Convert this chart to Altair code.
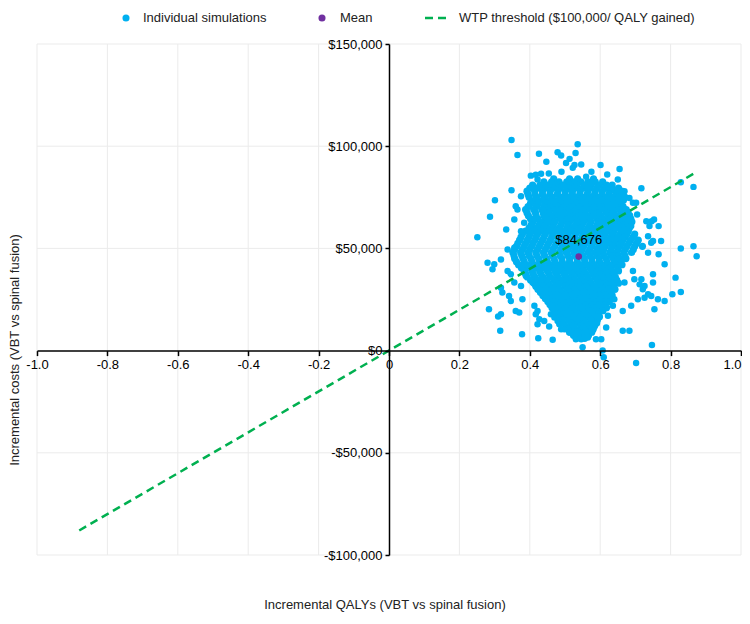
import altair as alt
import pandas as pd

# ---------------- data ----------------
# dense core of the simulation cloud: one cost level (thousand $) per row, QALY values per row
core_cost_k = [84, 82.5, 81, 79.5, 78, 76.5, 75, 73.5, 72, 70.5, 69, 67.5, 66, 64.5, 63, 61.5,
               60, 58.5, 57, 55.5, 54, 52.5, 51, 49.5, 48, 46.5, 45, 43.5, 42, 40.5, 39, 37.5,
               36, 34.5, 33, 31.5, 30, 28.5, 27, 25.5, 24, 22.5, 21, 19.5, 18, 16.5, 15, 13.5,
               12, 10.5, 9, 7.5, 6]
core_qaly = [
    [0.468, 0.513, 0.536, 0.581],
    [0.44, 0.462, 0.483, 0.505, 0.525, 0.545, 0.565, 0.586, 0.607],
    [0.408, 0.429, 0.45, 0.471, 0.493, 0.515, 0.534, 0.556, 0.574, 0.597, 0.618, 0.634],
    [0.40, 0.421, 0.443, 0.465, 0.486, 0.508, 0.528, 0.55, 0.57, 0.59, 0.612, 0.633, 0.652],
    [0.392, 0.414, 0.436, 0.458, 0.48, 0.501, 0.521, 0.543, 0.565, 0.586, 0.606, 0.627, 0.645, 0.661],
    [0.395, 0.415, 0.436, 0.457, 0.478, 0.5, 0.521, 0.542, 0.563, 0.584, 0.605, 0.625, 0.645, 0.665],
    [0.398, 0.42, 0.442, 0.464, 0.487, 0.509, 0.531, 0.552, 0.574, 0.594, 0.615, 0.636, 0.652, 0.671],
    [0.413, 0.436, 0.458, 0.48, 0.501, 0.523, 0.544, 0.565, 0.585, 0.605, 0.626, 0.647, 0.666],
    [0.402, 0.424, 0.446, 0.468, 0.49, 0.511, 0.532, 0.553, 0.574, 0.595, 0.616, 0.637, 0.658],
    [0.395, 0.418, 0.44, 0.457, 0.478, 0.5, 0.52, 0.541, 0.561, 0.582, 0.603, 0.623, 0.644, 0.665],
    [0.388, 0.411, 0.434, 0.452, 0.47, 0.489, 0.51, 0.531, 0.55, 0.572, 0.592, 0.613, 0.633, 0.655, 0.674],
    [0.392, 0.416, 0.438, 0.455, 0.475, 0.495, 0.516, 0.538, 0.556, 0.577, 0.597, 0.619, 0.639, 0.66, 0.679],
    [0.396, 0.418, 0.44, 0.461, 0.481, 0.502, 0.523, 0.544, 0.562, 0.583, 0.603, 0.624, 0.645, 0.664, 0.684],
    [0.402, 0.423, 0.445, 0.466, 0.487, 0.508, 0.529, 0.548, 0.568, 0.59, 0.609, 0.63, 0.65, 0.669, 0.687],
    [0.409, 0.431, 0.452, 0.471, 0.493, 0.513, 0.535, 0.553, 0.574, 0.596, 0.615, 0.636, 0.654, 0.673, 0.69],
    [0.404, 0.426, 0.447, 0.467, 0.488, 0.509, 0.53, 0.549, 0.57, 0.591, 0.611, 0.631, 0.65, 0.669, 0.686],
    [0.398, 0.419, 0.441, 0.463, 0.484, 0.505, 0.524, 0.545, 0.566, 0.586, 0.607, 0.626, 0.646, 0.665, 0.683],
    [0.388, 0.41, 0.431, 0.453, 0.475, 0.497, 0.518, 0.539, 0.56, 0.58, 0.6, 0.62, 0.64, 0.661, 0.68],
    [0.379, 0.401, 0.422, 0.444, 0.466, 0.488, 0.509, 0.53, 0.552, 0.574, 0.594, 0.614, 0.635, 0.657, 0.676, 0.698],
    [0.375, 0.397, 0.418, 0.44, 0.462, 0.484, 0.505, 0.527, 0.548, 0.569, 0.589, 0.61, 0.63, 0.651, 0.67, 0.693],
    [0.371, 0.393, 0.414, 0.436, 0.458, 0.48, 0.501, 0.521, 0.543, 0.563, 0.584, 0.605, 0.625, 0.645, 0.664, 0.686, 0.708],
    [0.366, 0.388, 0.409, 0.431, 0.453, 0.475, 0.497, 0.518, 0.538, 0.558, 0.579, 0.6, 0.62, 0.64, 0.66, 0.681, 0.703],
    [0.362, 0.384, 0.405, 0.427, 0.449, 0.471, 0.493, 0.514, 0.534, 0.553, 0.575, 0.596, 0.614, 0.635, 0.655, 0.676, 0.698, 0.72],
    [0.357, 0.379, 0.4, 0.422, 0.444, 0.466, 0.488, 0.509, 0.529, 0.549, 0.57, 0.591, 0.61, 0.631, 0.651, 0.671, 0.694],
    [0.352, 0.374, 0.395, 0.417, 0.439, 0.461, 0.483, 0.504, 0.525, 0.545, 0.566, 0.586, 0.606, 0.627, 0.646, 0.667, 0.689],
    [0.355, 0.377, 0.398, 0.42, 0.442, 0.464, 0.486, 0.508, 0.529, 0.55, 0.571, 0.591, 0.611, 0.632, 0.651, 0.67],
    [0.357, 0.381, 0.403, 0.425, 0.447, 0.469, 0.491, 0.513, 0.534, 0.555, 0.576, 0.597, 0.617, 0.637, 0.655, 0.673],
    [0.362, 0.384, 0.406, 0.428, 0.45, 0.471, 0.492, 0.513, 0.535, 0.556, 0.577, 0.598, 0.619, 0.64, 0.658],
    [0.368, 0.39, 0.412, 0.434, 0.456, 0.477, 0.499, 0.52, 0.541, 0.562, 0.583, 0.604, 0.625, 0.645, 0.662],
    [0.376, 0.398, 0.42, 0.442, 0.463, 0.485, 0.506, 0.527, 0.548, 0.57, 0.59, 0.61, 0.63, 0.65],
    [0.384, 0.406, 0.428, 0.45, 0.471, 0.492, 0.513, 0.533, 0.554, 0.576, 0.596, 0.615, 0.634, 0.652],
    [0.388, 0.41, 0.432, 0.454, 0.476, 0.498, 0.519, 0.539, 0.56, 0.581, 0.6, 0.62, 0.638],
    [0.393, 0.415, 0.437, 0.459, 0.481, 0.503, 0.524, 0.545, 0.565, 0.586, 0.605, 0.624, 0.643],
    [0.402, 0.424, 0.446, 0.468, 0.488, 0.509, 0.53, 0.55, 0.57, 0.591, 0.61, 0.628, 0.647],
    [0.412, 0.433, 0.452, 0.474, 0.494, 0.515, 0.536, 0.556, 0.575, 0.596, 0.615, 0.633, 0.652],
    [0.417, 0.438, 0.458, 0.479, 0.5, 0.521, 0.541, 0.561, 0.581, 0.601, 0.62, 0.637],
    [0.423, 0.444, 0.464, 0.485, 0.506, 0.527, 0.546, 0.566, 0.587, 0.606, 0.625, 0.642],
    [0.43, 0.45, 0.47, 0.491, 0.512, 0.532, 0.552, 0.572, 0.592, 0.611, 0.629],
    [0.437, 0.457, 0.477, 0.498, 0.518, 0.538, 0.558, 0.578, 0.597, 0.617, 0.634],
    [0.444, 0.464, 0.484, 0.504, 0.524, 0.544, 0.565, 0.584, 0.603, 0.621],
    [0.451, 0.471, 0.491, 0.511, 0.531, 0.551, 0.572, 0.591, 0.609, 0.626],
    [0.457, 0.477, 0.497, 0.517, 0.537, 0.558, 0.578, 0.597, 0.614],
    [0.463, 0.483, 0.503, 0.523, 0.544, 0.565, 0.584, 0.603, 0.618],
    [0.47, 0.49, 0.51, 0.53, 0.55, 0.571, 0.59, 0.608],
    [0.478, 0.497, 0.516, 0.536, 0.557, 0.577, 0.596],
    [0.485, 0.504, 0.523, 0.544, 0.565, 0.585, 0.598],
    [0.491, 0.511, 0.531, 0.552, 0.573, 0.592],
    [0.496, 0.517, 0.538, 0.558, 0.578, 0.59],
    [0.502, 0.523, 0.545, 0.565, 0.584],
    [0.508, 0.53, 0.55, 0.568, 0.58],
    [0.515, 0.537, 0.558, 0.576],
    [0.524, 0.546, 0.567],
    [0.532, 0.556],
]

# scattered simulations around the core
outer_qaly = [0.348, 0.365, 0.426, 0.447, 0.479, 0.489, 0.536, 0.530, 0.513, 0.527,
              0.454, 0.348, 0.301, 0.287, 0.251, 0.333, 0.356, 0.365, 0.403, 0.417,
              0.601, 0.655, 0.650, 0.717, 0.829, 0.865, 0.669, 0.683, 0.702, 0.705,
              0.746, 0.753, 0.766, 0.688, 0.697, 0.736, 0.745, 0.773, 0.829, 0.865,
              0.874, 0.766, 0.783, 0.693, 0.814, 0.717, 0.750, 0.726, 0.805, 0.829,
              0.736, 0.764, 0.783, 0.754, 0.664, 0.688, 0.664, 0.683, 0.617, 0.747,
              0.565, 0.588, 0.603, 0.550, 0.607, 0.610, 0.702, 0.280, 0.299, 0.294,
              0.318, 0.337, 0.346, 0.318, 0.322, 0.341, 0.346, 0.379, 0.284, 0.310,
              0.360, 0.370, 0.316, 0.378, 0.422, 0.427, 0.455, 0.424, 0.479, 0.489,
              0.512, 0.531, 0.356, 0.375, 0.413, 0.417, 0.422, 0.441, 0.460, 0.470,
              0.484, 0.498, 0.522, 0.541, 0.546, 0.465, 0.389, 0.408, 0.318, 0.750,
              0.736, 0.669, 0.697, 0.712, 0.721, 0.707, 0.726, 0.745, 0.583, 0.574,
              0.640, 0.636, 0.622, 0.693, 0.731, 0.740, 0.750, 0.503, 0.522, 0.546,
              0.422, 0.360, 0.384, 0.375, 0.337, 0.356, 0.375, 0.490, 0.575, 0.620,
              0.432, 0.560]
outer_cost_k = [103.0, 95.7, 96.3, 92.4, 97.0, 95.4, 100.9, 96.7, 93.8, 90.8,
                86.6, 78.4, 73.6, 65.5, 55.4, 59.3, 64.1, 69.0, 85.6, 86.0,
                90.8, 88.9, 83.7, 79.4, 82.4, 80.1, 78.0, 74.7, 72.3, 66.6,
                63.3, 64.1, 60.9, 60.9, 56.3, 56.0, 52.8, 53.6, 49.9, 51.1,
                46.2, 47.1, 42.2, 38.9, 35.7, 34.9, 33.3, 31.6, 27.6, 28.7,
                27.6, 25.1, 24.3, 20.2, 19.4, 21.9, 9.7, 9.7, 11.3, 2.7,
                6.4, 5.6, 5.6, 1.6, 0.0, -3.3, -6.1, 43.0, 42.2, 39.8,
                44.6, 38.9, 37.3, 30.8, 28.4, 26.7, 24.3, 25.1, 20.2, 16.7,
                19.4, 18.6, 9.7, 8.0, 19.4, 15.4, 11.8, 6.0, 14.5, 10.5,
                8.9, 5.6, 33.3, 31.6, 21.9, 17.8, 12.9, 14.5, 17.8, 16.2,
                12.9, 10.5, 12.1, 8.9, 5.6, 5.3, 36.5, 33.3, 17.8, 37.3,
                47.9, 33.3, 34.9, 32.4, 30.0, 25.1, 25.9, 26.7, 12.9, 9.7,
                25.1, 21.9, 17.0, 72.3, 63.3, 60.9, 53.6, 91.8, 89.4, 91.0,
                83.7, 70.6, 62.5, 58.4, 49.5, 50.3, 75.5, 87.5, 87.5, 86.2,
                86.5, 85.0]

mean_qaly = [0.539]
mean_cost = [46000]
mean_label = ["$84,676"]

wtp_qaly = [-0.88, 0.87]
wtp_cost = [-88000, 87000]

x_ticks = [-1.0, -0.8, -0.6, -0.4, -0.2, 0.0, 0.2, 0.4, 0.6, 0.8, 1.0]
y_ticks = [-100000, -50000, 0, 50000, 100000, 150000]
x_grid = [v for v in x_ticks if v != 0]
y_grid = [v for v in y_ticks if v != 0]

legend_labels = ["Individual simulations", "Mean", "WTP threshold ($100,000/ QALY gained)"]
x_title = "Incremental QALYs (VBT vs spinal fusion)"
y_title = "Incremental costs (VBT vs spinal fusion)"

# ---------------- build tables ----------------
core_rows = []
for c, qs in zip(core_cost_k, core_qaly):
    for q in qs:
        core_rows.append({"qaly": q, "cost": c * 1000})
core_df = pd.DataFrame(core_rows)
outer_df = pd.DataFrame({"qaly": outer_qaly, "cost": [c * 1000 for c in outer_cost_k]})
mean_df = pd.DataFrame({"qaly": mean_qaly, "cost": mean_cost, "label": mean_label})
wtp_df = pd.DataFrame({"qaly": wtp_qaly, "cost": wtp_cost})
gx_df = pd.DataFrame({"qaly": x_grid})
gy_df = pd.DataFrame({"cost": y_grid})
one = pd.DataFrame({"a": [0]})

# ---------------- style ----------------
W, H = 704, 511
FONT = "Liberation Sans, Arial, Helvetica, sans-serif"
BLUE = "#00B0F0"
PURPLE = "#7030A0"
GREEN = "#00B050"
GRID = "#EBEBEB"

xs = alt.Scale(domain=[-1, 1], nice=False, zero=False)
ys = alt.Scale(domain=[-100000, 150000], nice=False, zero=False)

x_axis = alt.Axis(values=x_ticks, offset=-(H * 0.4), grid=False, title=None,
                  domainColor="black", domainWidth=1.5, tickColor="black", tickWidth=1.5,
                  tickSize=5, labelFont=FONT, labelFontSize=13, labelColor="black",
                  labelPadding=3, labelFlush=False, labelOverlap=False, zindex=1,
                  labelAlign={"condition": {"test": "datum.value >= 1", "value": "right"}, "value": "center"},
                  labelExpr="datum.value == 0 ? '0' : (datum.value < 0 ? '-' : '') + format(abs(datum.value), '.1f')")
y_axis = alt.Axis(values=y_ticks, offset=-(W / 2), grid=False, title=None,
                  domainColor="black", domainWidth=1.5, tickColor="black", tickWidth=1.5,
                  tickSize=4, labelFont=FONT, labelFontSize=13, labelColor="black",
                  labelPadding=3, labelFlush=False, labelOverlap=False, zindex=1,
                  labelExpr="(datum.value < 0 ? '-$' : '$') + format(abs(datum.value), ',')")

X = alt.X("qaly:Q", scale=xs, axis=x_axis)
Y = alt.Y("cost:Q", scale=ys, axis=y_axis)

grid_v = alt.Chart(gx_df).mark_rule(color=GRID, strokeWidth=1).encode(
    x=X, y=alt.value(0), y2=alt.value(H))
grid_h = alt.Chart(gy_df).mark_rule(color=GRID, strokeWidth=1).encode(
    y=Y, x=alt.value(0), x2=alt.value(W))

core_pts = alt.Chart(core_df).mark_circle(size=52, color=BLUE, opacity=1).encode(x=X, y=Y)
outer_pts = alt.Chart(outer_df).mark_circle(size=42, color=BLUE, opacity=1).encode(x=X, y=Y)

wtp = alt.Chart(wtp_df).mark_line(color=GREEN, strokeWidth=2.5, strokeDash=[8, 5]).encode(x=X, y=Y)

mean_pt = alt.Chart(mean_df).mark_circle(size=44, color=PURPLE, opacity=1).encode(x=X, y=Y)

mean_txt = alt.Chart(mean_df).mark_text(font=FONT, fontSize=13, color="black", dy=-17).encode(
    x=X, y=Y, text="label:N")

# legend (drawn by hand above the plot)
LY = -26
leg = [
    alt.Chart(one).mark_circle(size=50, color=BLUE, opacity=1).encode(x=alt.value(89), y=alt.value(LY)),
    alt.Chart(one).mark_text(text=legend_labels[0], font=FONT, fontSize=13, align="left",
                             baseline="middle", color="#222").encode(x=alt.value(106), y=alt.value(LY)),
    alt.Chart(one).mark_circle(size=50, color=PURPLE, opacity=1).encode(x=alt.value(285), y=alt.value(LY)),
    alt.Chart(one).mark_text(text=legend_labels[1], font=FONT, fontSize=13, align="left",
                             baseline="middle", color="#222").encode(x=alt.value(303), y=alt.value(LY)),
    alt.Chart(one).mark_rule(color=GREEN, strokeWidth=2.5, strokeDash=[8, 5]).encode(
        x=alt.value(388), x2=alt.value(411), y=alt.value(LY)),
    alt.Chart(one).mark_text(text=legend_labels[2], font=FONT, fontSize=13, align="left",
                             baseline="middle", color="#222").encode(x=alt.value(422), y=alt.value(LY)),
]

titles = [
    alt.Chart(one).mark_text(text=x_title, font=FONT, fontSize=13, align="center",
                             baseline="middle", color="#222").encode(x=alt.value(348), y=alt.value(561)),
    alt.Chart(one).mark_text(text=y_title, font=FONT, fontSize=13, align="center",
                             baseline="middle", angle=270, color="#222").encode(x=alt.value(-22), y=alt.value(306)),
]

chart = alt.layer(grid_v, grid_h, core_pts, outer_pts, wtp, mean_pt, mean_txt, *leg, *titles).properties(
    width=W, height=H,
    autosize=alt.AutoSizeParams(type="none"),
    padding={"left": 29, "top": 36, "right": 1, "bottom": 57},
).configure_view(stroke=None)

chart.save("out.html", embed_options={"renderer": "svg", "actions": False})
